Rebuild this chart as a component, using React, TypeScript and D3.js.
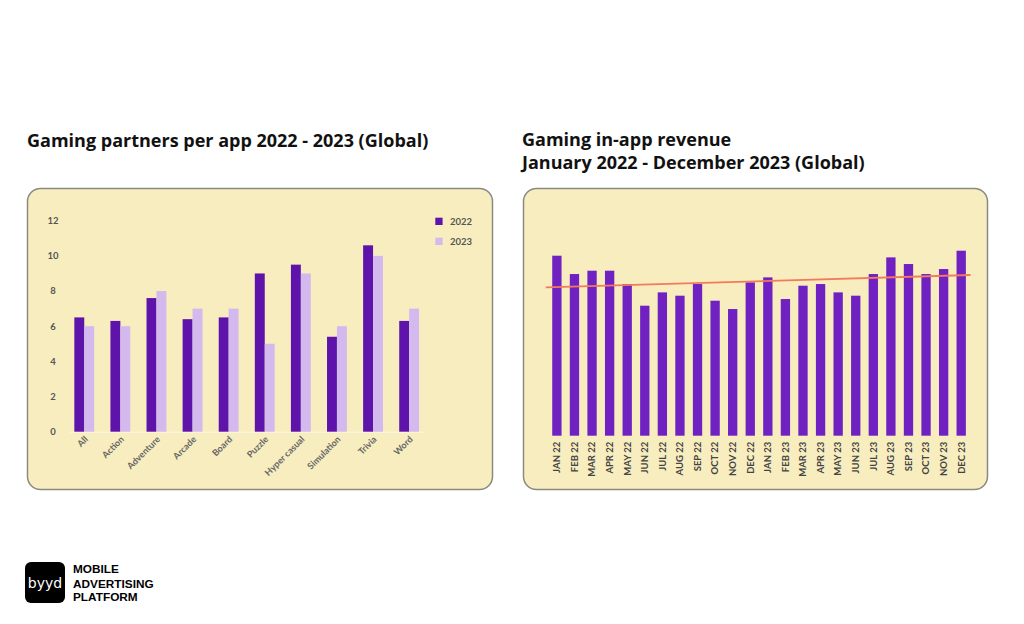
import React from "react";
import * as d3 from "d3";

const genres = ["All", "Action", "Adventure", "Arcade", "Board", "Puzzle", "Hyper casual", "Simulation", "Trivia", "Word"];
const partners2022 = [6.5, 6.3, 7.6, 6.4, 6.5, 9.0, 9.5, 5.4, 10.6, 6.3];
const partners2023 = [6.0, 6.0, 8.0, 7.0, 7.0, 5.0, 9.0, 6.0, 10.0, 7.0];
const yTicks = [0, 2, 4, 6, 8, 10, 12];
const seriesNames = ["2022", "2023"];

const months = ["JAN 22", "FEB 22", "MAR 22", "APR 22", "MAY 22", "JUN 22", "JUL 22", "AUG 22", "SEP 22", "OCT 22", "NOV 22", "DEC 22",
  "JAN 23", "FEB 23", "MAR 23", "APR 23", "MAY 23", "JUN 23", "JUL 23", "AUG 23", "SEP 23", "OCT 23", "NOV 23", "DEC 23"];
const revenue = [10.8, 9.7, 9.9, 9.9, 9.1, 7.8, 8.6, 8.4, 9.1, 8.1, 7.6, 9.2, 9.5, 8.2, 9.0, 9.1, 8.6, 8.4, 9.7, 10.7, 10.3, 9.7, 10.0, 11.1];

const C2022 = "#5e14aa";
const C2023 = "#d3b9ee";
const CREV = "#7021c2";
const BG = "#f8edbf";
const FONT = "Lato, 'Open Sans', sans-serif";
const TITLE_FONT = "'Open Sans', Lato, sans-serif";

export default function App() {
  // Left chart
  const xL = d3.scaleBand<string>().domain(genres).range([66.2, 427.2]).paddingInner(0.45).paddingOuter(0.225);
  const xSub = d3.scaleBand<string>().domain(seriesNames).range([0, xL.bandwidth()]);
  const yL = d3.scaleLinear().domain([0, 12]).range([431.7, 220.7]);

  // Right chart
  const xR = d3.scaleBand<string>().domain(months).range([548.1, 970.0]).paddingInner(0.47).paddingOuter(0.235);
  const yR = d3.scaleLinear().domain([0, 12]).range([435.7, 235.7]);

  // linear regression trend
  const n = revenue.length;
  const mx = d3.mean(revenue.map((_, i) => i)) as number;
  const my = d3.mean(revenue) as number;
  const sxy = d3.sum(revenue.map((v, i) => (i - mx) * (v - my)));
  const sxx = d3.sum(revenue.map((_, i) => (i - mx) * (i - mx)));
  const slope = sxy / sxx;
  const icpt = my - slope * mx;
  const idxToX = (i: number) => (xR(months[0]) as number) + xR.bandwidth() / 2 + i * xR.step();
  const t0 = -0.63, t1 = n - 1 + 0.53;
  const trend = d3.line<number>().x((i) => idxToX(i)).y((i) => yR(icpt + slope * i));

  return (
    <svg width={1024} height={624} style={{ position: "absolute", left: 0, top: 0, background: "#fff" }} fontFamily={FONT}>
      <rect x={0} y={0} width={1024} height={624} fill="#ffffff" />
      {/* Titles */}
      <text x={27} y={146.5} fontSize={18} fontWeight={700} fill="#111" fontFamily={TITLE_FONT}>Gaming partners per app 2022 - 2023 (Global)</text>
      <text x={522} y={146} fontSize={18} fontWeight={700} fill="#111" fontFamily={TITLE_FONT}>Gaming in-app revenue</text>
      <text x={522} y={169} fontSize={18} fontWeight={700} fill="#111" fontFamily={TITLE_FONT}>January 2022 - December 2023 (Global)</text>

      {/* Left panel */}
      <rect x={27.5} y={188.5} width={465} height={301} rx={13} fill={BG} stroke="#8a8a84" strokeWidth={1.5} />
      <line x1={70} x2={423} y1={yL(0) + 0.5} y2={yL(0) + 0.5} stroke="#fbf6e6" strokeWidth={1} />
      {yTicks.map((t) => (
        <text key={t} x={53} y={yL(t)} dy="0.35em" textAnchor="middle" fontSize={9.5} fontWeight={700} fill="#555">{t}</text>
      ))}
      {genres.map((g, i) => (
        <g key={g}>
          <rect x={(xL(g) as number) + (xSub("2022") as number)} y={yL(partners2022[i])} width={xSub.bandwidth()} height={yL(0) - yL(partners2022[i])} fill={C2022} />
          <rect x={(xL(g) as number) + (xSub("2023") as number)} y={yL(partners2023[i])} width={xSub.bandwidth()} height={yL(0) - yL(partners2023[i])} fill={C2023} />
          <text transform={`translate(${(xL(g) as number) + xL.bandwidth() / 2 + 2},${yL(0) + 6}) rotate(-45)`} textAnchor="end" dy="0.35em" fontSize={9} fontWeight={700} fill="#666">{g}</text>
        </g>
      ))}
      {/* Legend */}
      <rect x={435.3} y={217.7} width={7.3} height={7.3} fill={C2022} />
      <text x={450} y={221.7} dy="0.35em" fontSize={9.5} fontWeight={700} fill="#555">2022</text>
      <rect x={435.3} y={237.7} width={7.3} height={7.3} fill={C2023} />
      <text x={450} y={241.7} dy="0.35em" fontSize={9.5} fontWeight={700} fill="#555">2023</text>

      {/* Right panel */}
      <rect x={523.5} y={188.5} width={464} height={301} rx={13} fill={BG} stroke="#8a8a84" strokeWidth={1.5} />
      {months.map((m, i) => (
        <g key={m}>
          <rect x={xR(m) as number} y={yR(revenue[i])} width={xR.bandwidth()} height={yR(0) - yR(revenue[i])} fill={CREV} />
          <text transform={`translate(${(xR(m) as number) + xR.bandwidth() / 2},${yR(0) + 6}) rotate(-90)`} textAnchor="end" dy="0.35em" fontSize={9.5} fontWeight={700} fill="#444">{m}</text>
        </g>
      ))}
      <path d={trend([t0, t1]) as string} stroke="#f37a5a" strokeWidth={1.8} fill="none" />

      {/* Logo */}
      <rect x={25} y={562} width={40} height={41} rx={6} fill="#000" />
      <text x={45} y={583} dy="0.35em" textAnchor="middle" fontSize={14} fontWeight={500} fill="#fff" fontFamily="'DejaVu Sans', sans-serif">byyd</text>
      <text x={73} y={572.5} fontSize={11.8} fontWeight={700} fill="#000" fontFamily="'Liberation Sans', Arial, sans-serif">MOBILE</text>
      <text x={73} y={587.5} fontSize={11.8} fontWeight={700} fill="#000" fontFamily="'Liberation Sans', Arial, sans-serif">ADVERTISING</text>
      <text x={73} y={601} fontSize={11.8} fontWeight={700} fill="#000" fontFamily="'Liberation Sans', Arial, sans-serif">PLATFORM</text>
    </svg>
  );
}
